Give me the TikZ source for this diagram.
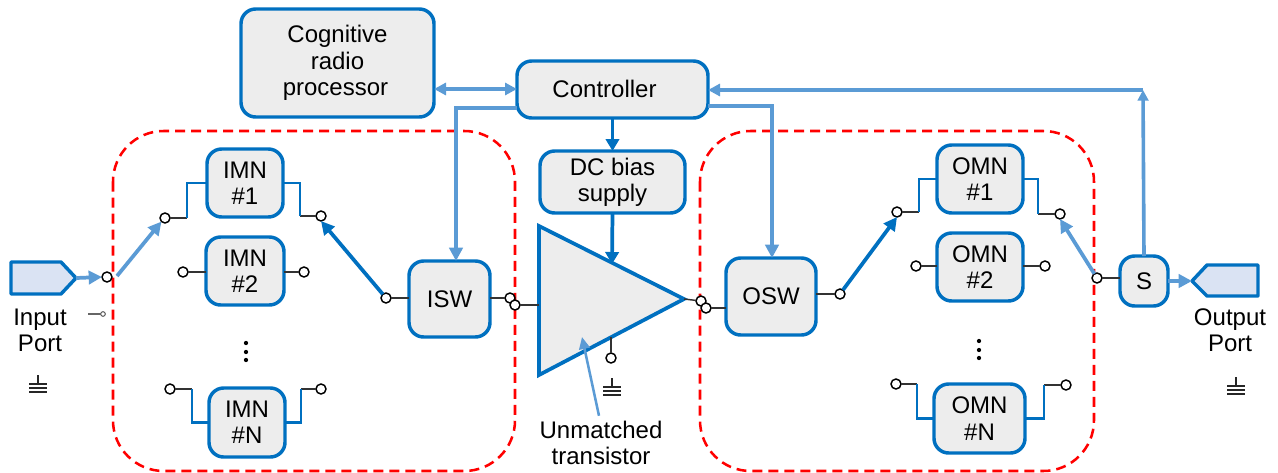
\documentclass[tikz,border=0pt]{standalone}
\usepackage{fontspec}
\setmainfont{Liberation Sans}
\usetikzlibrary{arrows.meta,calc}
\definecolor{dkblue}{HTML}{0070C0}
\definecolor{ltblue}{HTML}{5B9BD5}
\definecolor{boxfill}{HTML}{EDEDED}
\definecolor{portfill}{HTML}{DAE3F3}
\tikzset{
  x=0.75pt,y=-0.75pt,
  bluebox/.style={draw=dkblue,line width=2.6pt,fill=boxfill,rounded corners=11pt,inner sep=0pt,outer sep=0pt,align=center,font=\fontsize{18}{19.7}\selectfont},
  lbl/.style={inner sep=0pt,align=center,font=\fontsize{18}{19.7}\selectfont},
  term/.style={circle,draw=black,fill=white,line width=1.1pt,minimum size=7.5pt,inner sep=0pt,outer sep=0pt},
  tiny term/.style={circle,draw=black!70,fill=white,line width=0.7pt,minimum size=3.5pt,inner sep=0pt,outer sep=0pt},
  lead/.style={draw=black!80,line width=1.1pt},
  wire/.style={draw=dkblue,line width=1.9pt},
  ltarrow/.style={draw=ltblue,line width=2.8pt,-{Triangle[length=10pt,width=10pt]}},
  dkarrow/.style={draw=dkblue,line width=2.8pt,-{Triangle[length=10pt,width=10pt]}},
  ctlline/.style={draw=ltblue,line width=2.7pt},
  region/.style={draw=red,line width=1.9pt,dash pattern=on 7.5pt off 4.5pt,rounded corners=38pt},
  port/.style={draw=dkblue,line width=2.6pt,fill=portfill,line join=round},
  tri/.style={draw=dkblue,line width=2.8pt,fill=boxfill,line join=miter},
  gnd/.style={draw=black!85,line width=0.9pt},
  dotmark/.style={circle,fill=black,minimum size=3.2pt,inner sep=0pt}
}
\newcommand{\bx}[6]{%
  \pgfmathsetmacro{\bxcx}{(#2+#4)/2}\pgfmathsetmacro{\bxcy}{(#3+#5)/2}%
  \pgfmathsetmacro{\bxw}{(#4-#2)*0.75}\pgfmathsetmacro{\bxh}{(#5-#3)*0.75}%
  \node[bluebox,minimum width=\bxw pt,minimum height=\bxh pt] (#1) at (\bxcx,\bxcy) {#6};}
\newcommand{\gndmark}[2]{%
  \draw[gnd] (#1,#2) -- (#1,#2+9) (#1-9,#2+9) -- (#1+9,#2+9) (#1-9,#2+13) -- (#1+9,#2+13) (#1-9,#2+17) -- (#1+9,#2+17);}
\begin{document}
\begin{tikzpicture}
\path[use as bounding box] (0,0) rectangle (1278,472);
% regions
\draw[region] (113,131) rectangle (515,471);
\draw[region] (700,131) rectangle (1094,471);
% boxes
\bx{cog}{241}{9}{434}{117}{Cognitive\\radio\\processor\kern 3pt}
\bx{ctl}{517}{61}{708}{118}{\raisebox{1.5pt}{Controller\kern 12pt}}
\bx{dc}{540}{151}{685}{213}{DC bias\\supply}
\bx{imnA}{207}{149}{283}{217}{IMN\\\#1}
\bx{imnB}{206}{237}{284}{305}{IMN\\\#2}
\bx{imnN}{209}{388}{285}{457}{IMN\\\#N}
\bx{isw}{409}{261}{490}{337}{ISW}
\bx{osw}{726}{258}{816}{335}{\raisebox{-1.8pt}{OSW}}
\bx{omnA}{937}{145}{1023}{213}{OMN\\\#1}
\bx{omnB}{937}{233}{1023}{301}{OMN\\\#2}
\bx{omnN}{934}{384}{1025}{453}{OMN\\\#N}
\bx{sw}{1120}{256}{1168}{306}{S}
% transistor
\coordinate (tA) at (539,226);
\coordinate (tB) at (684,299);
\coordinate (tC) at (539,375);
\draw[tri] (tA) -- (tB) -- (tC) -- cycle;
\coordinate (tIn) at (539,305);
\coordinate (tGnd) at (611,337);
\coordinate (tTop) at (612,264);
\coordinate (tInner) at (582,337);
% ports
\coordinate (inTip) at (76,278);
\coordinate (outTip) at (1192,281);
\draw[port] (11,262) -- (61,262) -- (inTip) -- (61,294) -- (11,294) -- cycle;
\draw[port] (1258,265) -- (1207,265) -- (outTip) -- (1207,296) -- (1258,296) -- cycle;
% terminals
\node[term] (pin) at (107,277) {};
\node[term] (a1l) at (165,218) {};
\node[term] (a1r) at (321,216) {};
\node[term] (a2l) at (183,272) {};
\node[term] (a2r) at (304,272) {};
\node[term] (anl) at (170,389) {};
\node[term] (anr) at (321,389) {};
\node[term] (iswl) at (386,298) {};
\node[term] (iswr) at (510,298) {};
\node[term] (tinl) at (515,305) {};
\node[term] (tout) at (701,301) {};
\node[term] (oswl) at (706,308) {};
\node[term] (oswr) at (840,294) {};
\node[term] (b1l) at (897,212) {};
\node[term] (b1r) at (1060,214) {};
\node[term] (b2l) at (916,266) {};
\node[term] (b2r) at (1045,266) {};
\node[term] (bnl) at (896,384) {};
\node[term] (bnr) at (1066,385) {};
\node[term] (sl) at (1097,278) {};
\node[term] (tbot) at (611,358) {};
\node[tiny term] (stray) at (103,314) {};
\coordinate (strayL) at (88,314);
% bend points
\coordinate (a1lb) at (187,218);
\coordinate (a1rb) at (300,216);
\coordinate (anlb) at (192,389);
\coordinate (anrb) at (301,389);
\coordinate (b1lb) at (919,212);
\coordinate (b1rb) at (1038,214);
\coordinate (bnlb) at (917,384);
\coordinate (bnrb) at (1044,385);
\coordinate (oswW) at (726,308);
\coordinate (ctlA) at (517,108);
\coordinate (ctlB) at (708,106);
\coordinate (ctlC) at (708,90);
\coordinate (ctlD) at (517,89);
\coordinate (cogD) at (434,89);
\coordinate (sJ) at (1143,90);
\coordinate (iswTop) at (456,261);
\coordinate (oswTop) at (772,258);
% black leads
\draw[lead] (a1l) -- (a1lb);
\draw[lead] (a1rb) -- (a1r);
\draw[lead] (a2l) -- (a2l -| imnB.west);
\draw[lead] (a2r -| imnB.east) -- (a2r);
\draw[lead] (anl) -- (anlb);
\draw[lead] (anrb) -- (anr);
\draw[lead] (iswl) -- (iswl -| isw.west);
\draw[lead] (iswr -| isw.east) -- (iswr);
\draw[lead] (tinl) -- (tIn);
\draw[lead] (tB) -- (tout);
\draw[lead] (oswl) -- (oswW);
\draw[lead] (osw.east |- oswr) -- (oswr);
\draw[lead] (b1l) -- (b1lb);
\draw[lead] (b1rb) -- (b1r);
\draw[lead] (b2l) -- (b2l -| omnB.west);
\draw[lead] (b2r -| omnB.east) -- (b2r);
\draw[lead] (bnl) -- (bnlb);
\draw[lead] (bnrb) -- (bnr);
\draw[lead] (sl) -- (sw.west |- sl);
\draw[lead] (tGnd) -- (tbot);
\draw[draw=black!60,line width=0.8pt] (strayL) -- (stray);
% blue wires
\draw[wire] (a1lb) |- (imnA.west);
\draw[wire] (imnA.east) -| (a1rb);
\draw[wire] (anlb) |- (imnN.west);
\draw[wire] (imnN.east) -| (anrb);
\draw[wire] (b1lb) |- (omnA.west);
\draw[wire] (omnA.east) -| (b1rb);
\draw[wire] (bnlb) |- (omnN.west);
\draw[wire] (omnN.east) -| (bnrb);
% switch arrows
\draw[ltarrow] (inTip) -- (pin.west);
\draw[ltarrow] ($(pin)+(10,-1)$) -- (a1l.south west);
\draw[dkarrow] (iswl) -- (a1r.south);
\draw[dkarrow] (oswr) -- (b1l.south);
\draw[ltarrow] (sl) -- (b1r.south);
\draw[ltarrow] (sw.east |- outTip) -- (outTip);
% control
\draw[ctlline,{Triangle[length=9pt,width=9pt]}-{Triangle[length=9pt,width=9pt]}] (cogD) -- (ctlD);
\draw[ctlline,-{Triangle[length=9pt,width=9pt]}] (sJ) -- (ctlC);
\draw[ctlline,-{Triangle[length=8pt,width=8pt]}] (sw.north) -- (sJ);
\draw[ctlline,-{Triangle[length=10pt,width=10pt]}] (ctlA) -| (iswTop);
\draw[ctlline,-{Triangle[length=10pt,width=10pt]}] (ctlB) -| (oswTop);
\draw[draw=dkblue,line width=2.8pt,-{Triangle[length=9pt,width=10pt]}] (ctl.south) -- (dc.north);
\draw[draw=dkblue,line width=2.8pt,-{Triangle[length=9pt,width=10pt]}] (dc.south) -- (tTop);
% labels
\node[lbl] (inl) at (40,330) {Input\\Port};
\node[lbl] (outl) at (1230,330) {Output\\Port};
\node[lbl] (unm) at (601,443) {Unmatched\\transistor};
\draw[draw=ltblue,line width=1.9pt,-{Triangle[length=9pt,width=8pt]}] (unm.north -| 599,0) ++(0,-5) -- (tInner);
% dots
\node[dotmark] (d1) at (246,343) {}; \node[dotmark] (d2) at (246,352) {}; \node[dotmark] (d3) at (246,360) {};
\node[dotmark] (e1) at (979,341) {}; \node[dotmark] (e2) at (979,350) {}; \node[dotmark] (e3) at (979,358) {};
% grounds
\gndmark{38}{375}
\gndmark{612}{378}
\gndmark{1236}{377}
\end{tikzpicture}
\end{document}
